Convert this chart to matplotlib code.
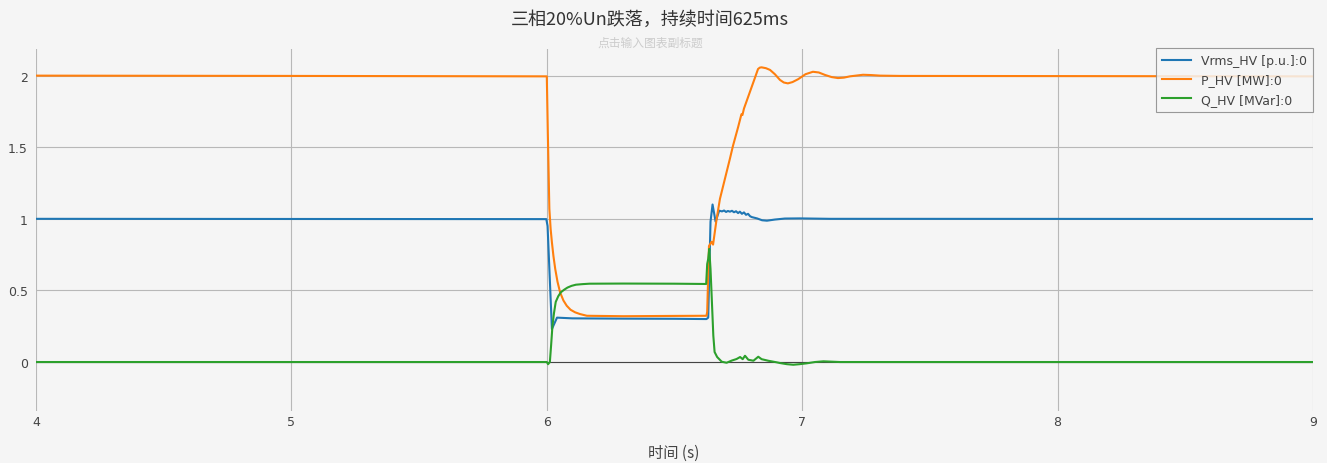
import matplotlib
matplotlib.use("Agg")
import matplotlib.pyplot as plt

plt.rcParams['font.family'] = ['Noto Sans CJK SC', 'DejaVu Sans']

title = "三相20%Un跌落，持续时间625ms"
subtitle = "点击输入图表副标题"
xlabel = "时间 (s)"
labels = ["Vrms_HV [p.u.]:0", "P_HV [MW]:0", "Q_HV [MVar]:0"]
colors = ["#1f77b4", "#ff7f0e", "#2ca02c"]
xticks = [4, 5, 6, 7, 8, 9]
yticks = [0, 0.5, 1, 1.5, 2]
ytick_labels = ["0", "0.5", "1", "1.5", "2"]

t_vrms = [4.0, 5.0, 5.998, 6.003, 6.02, 6.03, 6.04, 6.1, 6.3, 6.5, 6.625, 6.632,
          6.641, 6.649, 6.661, 6.675, 6.686, 6.694, 6.702, 6.709, 6.717, 6.725,
          6.733, 6.741, 6.749, 6.756, 6.764, 6.772, 6.780, 6.788, 6.796, 6.803,
          6.823, 6.843, 6.862, 6.893, 6.932, 6.991, 7.109, 9.0]
vrms = [1.0, 0.999, 0.998, 0.95, 0.23, 0.27, 0.31, 0.305, 0.303, 0.302, 0.30, 0.31,
        0.98, 1.10, 0.98, 1.057, 1.052, 1.058, 1.048, 1.055, 1.05, 1.056,
        1.046, 1.053, 1.04, 1.05, 1.035, 1.045, 1.028, 1.035, 1.018, 1.012,
        1.003, 0.99, 0.987, 0.995, 1.002, 1.003, 1.0, 0.999]

t_p = [4.0, 5.0, 6.0, 6.004, 6.01, 6.015, 6.02, 6.026, 6.033, 6.042, 6.052, 6.065,
       6.078, 6.093, 6.111, 6.13, 6.157, 6.3,
       6.5, 6.625, 6.628, 6.635, 6.645, 6.651, 6.665, 6.678, 6.717, 6.729, 6.749,
       6.762, 6.766, 6.772, 6.796, 6.812, 6.827, 6.834, 6.841, 6.858, 6.874, 6.893,
       6.913, 6.928, 6.944, 6.962, 6.984, 7.013, 7.042, 7.065, 7.089, 7.115,
       7.14, 7.163, 7.187, 7.238, 7.27, 7.305, 7.383, 9.0]
p = [2.0, 1.998, 1.995, 1.6, 1.07, 0.93, 0.836, 0.74, 0.65, 0.56, 0.487, 0.43,
     0.393, 0.365, 0.347, 0.335, 0.323, 0.32,
     0.322, 0.323, 0.35, 0.81, 0.84, 0.82, 1.0, 1.14, 1.42, 1.51, 1.64,
     1.73, 1.725, 1.77, 1.89, 1.97, 2.046, 2.056, 2.058, 2.052, 2.04, 2.01,
     1.97, 1.952, 1.946, 1.955, 1.975, 2.01, 2.027, 2.022, 2.005, 1.99,
     1.983, 1.986, 1.995, 2.006, 2.004, 2.0, 1.998, 1.995]

t_q = [4.0, 6.0, 6.005, 6.012, 6.017, 6.022, 6.028, 6.035, 6.045, 6.055, 6.068,
       6.081, 6.097, 6.114, 6.14, 6.167, 6.3, 6.5,
       6.624, 6.628, 6.632, 6.636, 6.641, 6.646, 6.652, 6.657, 6.667, 6.685,
       6.704, 6.724, 6.743, 6.757, 6.767, 6.776, 6.789, 6.809, 6.828, 6.841,
       6.867, 6.900, 6.913, 6.94, 6.965, 6.99, 7.018, 7.05, 7.083, 7.148, 9.0]
q = [0.0, 0.0, -0.015, 0.0, 0.12, 0.25, 0.34, 0.42, 0.46, 0.487, 0.505,
     0.52, 0.532, 0.54, 0.544, 0.547, 0.548, 0.547,
     0.545, 0.684, 0.72, 0.79, 0.65, 0.44, 0.184, 0.07, 0.035, 0.002,
     -0.005, 0.01, 0.021, 0.035, 0.02, 0.044, 0.016, 0.009, 0.037, 0.02,
     0.009, -0.002, -0.007, -0.015, -0.019, -0.015, -0.009, 0.0, 0.005, 0.0, 0.0]

bg = "#f5f5f5"
fig = plt.figure(figsize=(13.27, 4.64), dpi=100, facecolor=bg)
ax = fig.add_axes([36/1327, 1-412/464, (1313-36)/1327, (412-50)/464])
ax.set_facecolor(bg)

for tt, vv, c, lab in zip([t_vrms, t_p, t_q], [vrms, p, q], colors, labels):
    ax.plot(tt, vv, color=c, lw=1.5, label=lab, zorder=3)

ax.set_xlim(4, 9)
ax.set_ylim(-0.342, 2.186)
ax.set_xticks(xticks)
ax.set_xticklabels([str(v) for v in xticks])
ax.set_yticks(yticks)
ax.set_yticklabels(ytick_labels)
ax.grid(True, color="#b8b8b8", lw=0.8, zorder=0)
ax.axhline(0, color="#444444", lw=0.8, zorder=2)
for s in ax.spines.values():
    s.set_visible(False)
ax.tick_params(length=0, colors="#444444", labelsize=9, pad=6)
for lbl in ax.get_xticklabels() + ax.get_yticklabels():
    lbl.set_family("DejaVu Sans")
ax.tick_params(axis='x', pad=3)

fig.text(674/1327, 1-453/464, xlabel, ha="center", va="center", fontsize=11, color="#444444")
fig.text(650/1327, 1-20/464, title, ha="center", va="center", fontsize=13, color="#333333")
fig.text(650/1327, 1-43/464, subtitle, ha="center", va="center", fontsize=8.5, color="#cccccc")

leg = ax.legend(loc="upper right", bbox_to_anchor=(1.0, 1.003), borderaxespad=0,
                fancybox=False, frameon=True, handlelength=2.3, labelspacing=0.5,
                prop={"family": "DejaVu Sans", "size": 9}, borderpad=0.5)
leg.get_frame().set_facecolor(bg)
leg.get_frame().set_alpha(0.85)
leg.get_frame().set_edgecolor("#888888")
leg.get_frame().set_linewidth(0.8)
for txt in leg.get_texts():
    txt.set_color("#444444")

fig.savefig("out.png", dpi=100, facecolor=bg)
